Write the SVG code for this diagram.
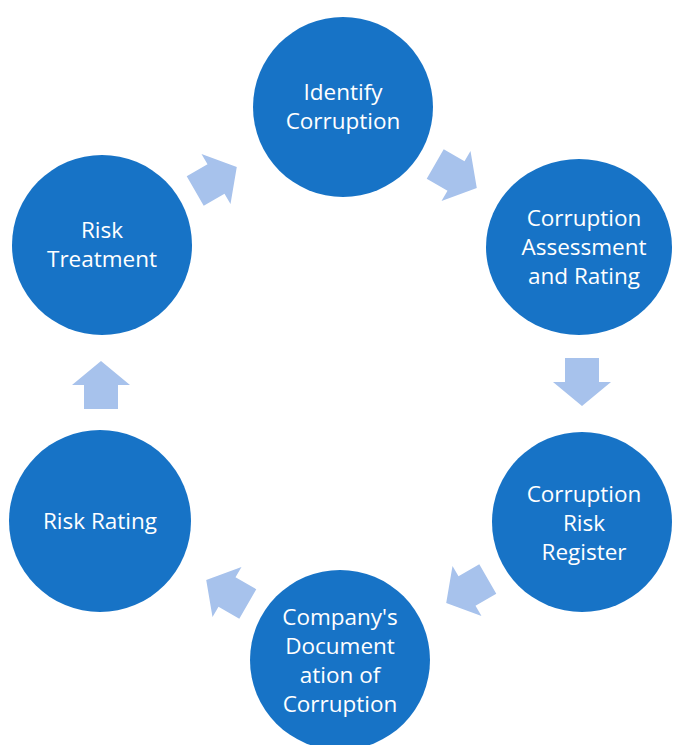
<svg xmlns="http://www.w3.org/2000/svg" width="675" height="745" viewBox="0 0 675 745">
  <defs>
    <style>
      .node { fill: #1773c6; }
      .label { fill: #ffffff; font-family: "Open Sans", "Liberation Sans", sans-serif; font-size: 22.5px; text-anchor: middle; }
      .arrow { fill: #a7c2ec; }
    </style>
    <!-- block arrow pointing up, centred on the origin -->
    <path id="blockArrow" d="M0,-24 L29,0 L17,0 L17,24 L-17,24 L-17,0 L-29,0 Z"/>
  </defs>
  <rect width="675" height="745" fill="#ffffff"/>

  <g id="connectors">
    <use href="#blockArrow" class="arrow" transform="translate(216,179) rotate(60)"/>
    <use href="#blockArrow" class="arrow" transform="translate(456,176) rotate(120)"/>
    <use href="#blockArrow" class="arrow" transform="translate(582,382) rotate(180)"/>
    <use href="#blockArrow" class="arrow" transform="translate(467,591) rotate(240)"/>
    <use href="#blockArrow" class="arrow" transform="translate(227,592) rotate(300)"/>
    <use href="#blockArrow" class="arrow" transform="translate(101,385)"/>
  </g>

  <g id="identify-corruption">
    <circle class="node" cx="343" cy="107" r="90"/>
    <text class="label" x="343" y="100">Identify</text>
    <text class="label" x="343" y="129">Corruption</text>
  </g>

  <g id="assessment-rating">
    <ellipse class="node" cx="579" cy="247" rx="93" ry="88"/>
    <text class="label" x="584" y="226">Corruption</text>
    <text class="label" x="584" y="255">Assessment</text>
    <text class="label" x="584" y="284">and Rating</text>
  </g>

  <g id="risk-register">
    <circle class="node" cx="582" cy="522" r="90"/>
    <text class="label" x="584" y="502">Corruption</text>
    <text class="label" x="584" y="531">Risk</text>
    <text class="label" x="584" y="560">Register</text>
  </g>

  <g id="company-documentation">
    <circle class="node" cx="340" cy="660" r="90"/>
    <text class="label" x="340" y="625">Company's</text>
    <text class="label" x="340" y="654">Document</text>
    <text class="label" x="340" y="683">ation of</text>
    <text class="label" x="340" y="712">Corruption</text>
  </g>

  <g id="risk-rating">
    <circle class="node" cx="100" cy="521" r="91"/>
    <text class="label" x="100" y="529">Risk Rating</text>
  </g>

  <g id="risk-treatment">
    <circle class="node" cx="102" cy="245" r="90"/>
    <text class="label" x="102" y="238">Risk</text>
    <text class="label" x="102" y="267">Treatment</text>
  </g>
</svg>
